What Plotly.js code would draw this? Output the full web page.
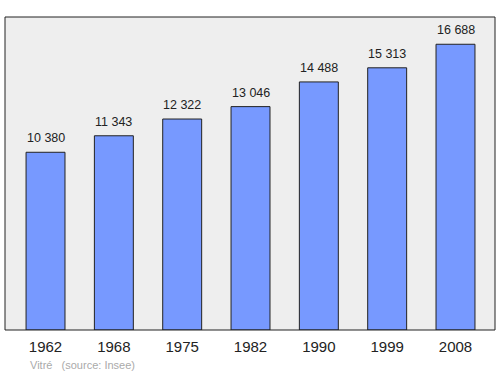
<!DOCTYPE html>
<html><head><meta charset="utf-8">
<script src="https://cdn.plot.ly/plotly-3.0.1.min.js"></script>
<style>html,body{margin:0;padding:0;background:#fff}#c{width:500px;height:374px}</style>
</head><body><div id="c"></div>
<script>
const years = ['1962','1968','1975','1982','1990','1999','2008'];
const population = [10380, 11343, 12322, 13046, 14488, 15313, 16688];
const labels = ['10 380','11 343','12 322','13 046','14 488','15 313','16 688'];

const trace = {
  type: 'bar', x: years, y: population, width: 0.57,
  marker: {color: '#7799ff', line: {color: '#222', width: 1}},
  hoverinfo: 'none'
};
const ann = years.map((y, i) => ({
  x: i, y: population[i], text: labels[i], showarrow: false,
  yanchor: 'bottom', yshift: 5, font: {family: 'Liberation Sans, Arial', size: 12.5, color: '#222'}
}));
ann.push({xref: 'paper', yref: 'paper', x: 0.046, y: -0.112, xanchor: 'left', yanchor: 'middle',
  text: 'Vitré&nbsp;&nbsp;&nbsp;(source: Insee)', showarrow: false,
  font: {family: 'Liberation Sans, Arial', size: 11, color: '#aaa'}});
const layout = {
  width: 500, height: 374, margin: {l: 5, r: 5, t: 17, b: 44},
  paper_bgcolor: '#fff', plot_bgcolor: '#eeeeee', showlegend: false,
  xaxis: {type: 'category', range: [-0.593, 6.578], showgrid: false, zeroline: false, ticks: '',
    tickfont: {family: 'Liberation Sans, Arial', size: 15, color: '#222'}, ticklabelstandoff: 6},
  yaxis: {range: [0, 18280], showgrid: false, zeroline: false, showticklabels: false, ticks: ''},
  annotations: ann,
  shapes: [{type: 'rect', xref: 'paper', yref: 'paper', x0: 0, x1: 1, y0: 0, y1: 1,
    line: {color: '#222', width: 1}}]
};
Plotly.newPlot('c', [trace], layout, {staticPlot: true});
</script></body></html>
